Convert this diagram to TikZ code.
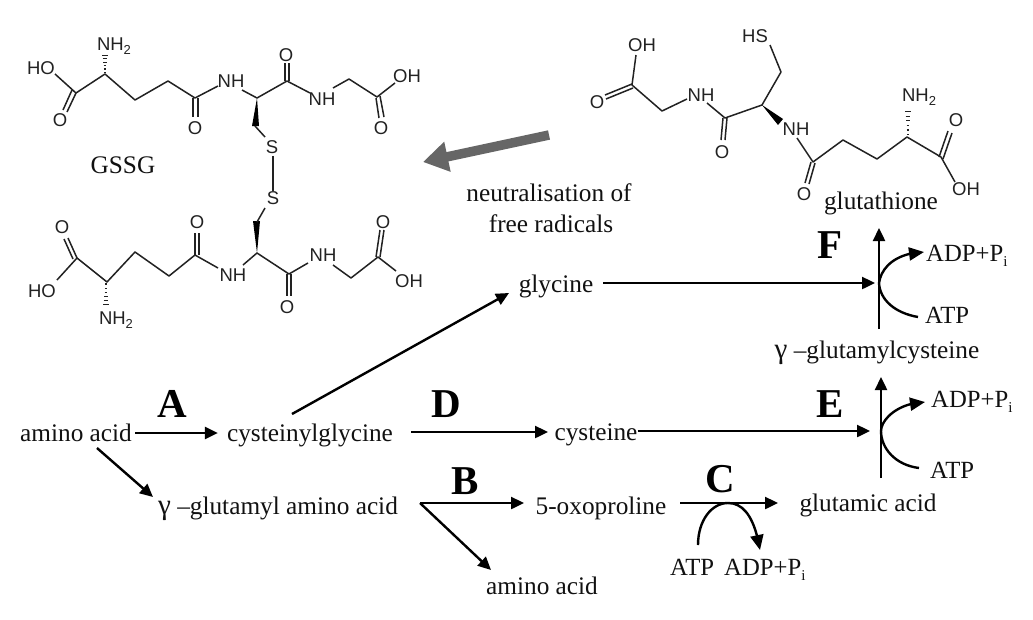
\documentclass[tikz,border=0pt]{standalone}
\usepackage{fontspec}
\setmainfont{Liberation Serif}
\newfontfamily\chemfont{Liberation Sans}
\usetikzlibrary{arrows.meta,bending}
\newcommand\subi{{\fontsize{15}{15}\selectfont\raisebox{-5.5pt}{i}}}
\newcommand\subtwo{{\fontsize{13}{13}\selectfont\raisebox{-4pt}{2}}}
\newcommand\gam{{\fontsize{29}{29}\selectfont γ}}
\newcommand\hashv[3]{\foreach \t in {0.08,0.24,0.40,0.56,0.72,0.88}{\draw[line width=1.2pt,draw=chem] ({#1-0.4-2.6*\t},{#2+(#3-#2)*\t}) -- ({#1+0.4+2.6*\t},{#2+(#3-#2)*\t});}}
\definecolor{chem}{HTML}{222222}
\definecolor{ink}{HTML}{111111}
\tikzset{
  lbl/.style={font=\fontsize{25.3}{27}\selectfont,text=ink,inner sep=0pt,anchor=base},
  cof/.style={font=\fontsize{24.7}{26}\selectfont,text=ink,inner sep=0pt,anchor=base west},
  letter/.style={font=\fontsize{41}{43}\selectfont\bfseries,text=black,inner sep=0pt,anchor=base},
  atom/.style={font=\fontsize{18.5}{20}\selectfont\chemfont,text=chem,inner sep=0pt},
  bond/.style={draw=chem,line width=1.5pt,line join=round},
  wedge/.style={fill=black,draw=none},
  arr/.style={draw=black,line width=2.4pt,-{Triangle[length=13pt,width=12pt]}},
  arcarr/.style={draw=black,line width=2.4pt,-{Triangle[length=15pt,width=13pt,flex]}},
  curve/.style={draw=black,line width=2.4pt},
  big/.style={draw=black!60,line width=9.5pt,-{Triangle[length=25pt,width=29pt]}}
}
\begin{document}
\begin{tikzpicture}[x=1pt,y=-1pt]
\useasboundingbox (0,0) rectangle (1033,619);
\fill[white] (0,0) rectangle (1033,619);

% GSSG, upper half
\node[atom] (t1) at (41,68) {HO};
\node[atom] (t2) at (60,120) {O};
\node[atom] (t3) at (114,46) {NH\subtwo};
\node[atom] (t4) at (195,128) {O};
\node[atom] (t5) at (231,81) {NH};
\node[atom] (t6) at (286,55) {O};
\node[atom] (t7) at (322,99) {NH};
\node[atom] (t8) at (407,76) {OH};
\node[atom] (t9) at (381,128) {O};
\node[atom] (t10) at (272,147) {S};
\draw[bond] (55,74) -- (76,93) -- (105,74) -- (135,100) -- (168,81) -- (195,98) -- (218,86);
\draw[bond] (76,93) -- (67,112) (72,90) -- (63,110);
\draw[bond] (193,98) -- (193,117) (198,98) -- (198,117);
\hashv{105}{74}{53}
\draw[bond] (242,90) -- (257,98) -- (287,81) -- (310,93);
\draw[wedge] (257,98) -- (252,126) -- (259,126) -- cycle;
\draw[bond] (255,126) -- (265,137);
\draw[bond] (285,81) -- (285,63) (289,81) -- (289,63);
\draw[bond] (333,88) -- (349,79) -- (377,97) -- (395,83);
\draw[bond] (376,98) -- (379,118) (380,96) -- (384,117);
\node[font=\fontsize{25.3}{27}\selectfont,text=ink,inner sep=0pt] (gssg) at (123,165) {GSSG};

% S-S
\node[atom] (b10) at (273,198) {S};
\draw[bond] (t10.south) ++(1,2) -- (b10.north);

% GSSG, lower half
\node[atom] (b1) at (42,291) {HO};
\node[atom] (b2) at (62,227) {O};
\node[atom] (b3) at (116,320) {NH\subtwo};
\node[atom] (b4) at (197,222) {O};
\node[atom] (b5) at (233,275) {NH};
\node[atom] (b6) at (287,307) {O};
\node[atom] (b7) at (323,255) {NH};
\node[atom] (b8) at (409,281) {OH};
\node[atom] (b9) at (383,222) {O};
\draw[bond] (57,280) -- (77,258) -- (107,282) -- (135,252) -- (169,276) -- (195,255) -- (218,268);
\draw[bond] (77,258) -- (68,238) (73,259) -- (64,239) ;
\draw[bond] (195,255) -- (195,233) (199,255) -- (199,233);
\hashv{106}{282}{308}
\draw[bond] (243,265) -- (257,253) -- (289,274) -- (308,263);
\draw[wedge] (257,253) -- (253,221) -- (260,221) -- cycle;
\draw[bond] (257,222) -- (265,208);
\draw[bond] (287,274) -- (287,296) (291,274) -- (291,296);
\draw[bond] (333,265) -- (351,278) -- (378,257) -- (396,271);
\draw[bond] (376,257) -- (380,230) (380,257) -- (384,230);

% glutathione
\node[atom] (g1) at (642,45) {OH};
\node[atom] (g2) at (597,102) {O};
\node[atom] (g3) at (701,95) {NH};
\node[atom] (g4) at (722,152) {O};
\node[atom] (g5) at (755,36) {HS};
\node[atom] (g6) at (796,129) {NH};
\node[atom] (g7) at (804,194) {O};
\node[atom] (g8) at (919,97) {NH\subtwo};
\node[atom] (g9) at (956,120) {O};
\node[atom] (g10) at (966,189) {OH};
\draw[bond] (636,55) -- (632,85) -- (662,111) -- (687,99);
\draw[bond] (632,84) -- (605,95) (633,88) -- (606,99);
\draw[bond] (707,103) -- (725,118) -- (762,105) -- (781,72) -- (770,45);
\draw[bond] (723,118) -- (721,140) (727,118) -- (725,140);
\draw[wedge] (762,105) -- (778,125) -- (783,119) -- cycle;
\draw[bond] (797,138) -- (813,162) -- (843,140) -- (877,159) -- (907,137) -- (941,157) -- (955,182);
\draw[bond] (811,162) -- (805,183) (815,163) -- (809,184);
\hashv{908}{137}{108}
\draw[bond] (939,157) -- (948,131) (943,159) -- (952,133);
\node[lbl] (glut) at (881,209) {glutathione};

% grey arrow
\coordinate (greyfrom) at (549,135);
\coordinate (greyto) at (423,162);
\draw[big] (greyfrom) -- (greyto);
\node[lbl] (neut1) at (549,201) {neutralisation of};
\node[lbl] (neut2) at (551,232) {free radicals};

% pathway nodes
\node[lbl] (aa1) at (76,441) {amino acid};
\node[lbl] (cys) at (310,441) {cysteinylglycine};
\node[lbl] (cyst) at (596,440) {cysteine};
\node[lbl] (gly) at (556,292) {glycine};
\node[lbl] (gaa) at (278,514) {\gam{} –glutamyl amino acid};
\node[lbl] (oxo) at (601,514) {5-oxoproline};
\node[lbl] (glu) at (868,511) {glutamic acid};
\node[lbl] (aa2) at (542,594) {amino acid};
\node[lbl] (gcys) at (877,358) {\gam{} –glutamylcysteine};

\node[letter] (A) at (172,417) {A};
\node[letter] (D) at (446,417) {D};
\node[letter] (E) at (830,417) {E};
\node[letter] (F) at (830,258) {F};
\node[letter] (B) at (465,494) {B};
\node[letter] (C) at (720,492) {C};

% cofactor labels
\node[cof] (atpF) at (925,323) {ATP};
\node[cof] (adpF) at (926,261) {ADP+P\subi};
\node[cof] (atpE) at (930,478) {ATP};
\node[cof] (adpE) at (931,407) {ADP+P\subi};
\node[cof] (atpC) at (670,575) {ATP};
\node[cof] (adpC) at (724,575) {ADP+P\subi};

% pathway arrows
\coordinate (split) at (420,503);
\coordinate (jF) at (879,283);
\coordinate (jE) at (881,431);
\coordinate (jC) at (728,503);
\draw[arr,shorten <=3pt,shorten >=9pt] (aa1.east |- 0,433) -- (cys.west |- 0,433);
\draw[arr] (97,448) -- (153,497);
\draw[arr] (292,414) -- (509,293);
\draw[arr] (411,432) -- (548,432);
\draw[arr] (cyst.east |- 0,431) -- (870,431);
\draw[arr] (603,283) -- (875,283);
\draw[arr] (split) -- (524,503);
\draw[arr] (split) -- (491,570);
\draw[arr] (680,503) -- (778,503);

% reaction arcs
\draw[arr] (879,329) -- (879,228);
\draw[arr] (881,478) -- (881,377);
\draw[curve] (918,317) .. controls (895,313) and (880,300) .. (jF);
\draw[arcarr] (jF) .. controls (881,268) and (895,253) .. (924,252);
\draw[curve] (919,468) .. controls (895,465) and (881,448) .. (jE);
\draw[arcarr] (jE) .. controls (881,420) and (897,403) .. (925,402);
\draw[curve] (698,545) .. controls (698,520) and (712,503) .. (jC);
\draw[arcarr] (jC) .. controls (745,503) and (755,520) .. (760,550);
\end{tikzpicture}
\end{document}
